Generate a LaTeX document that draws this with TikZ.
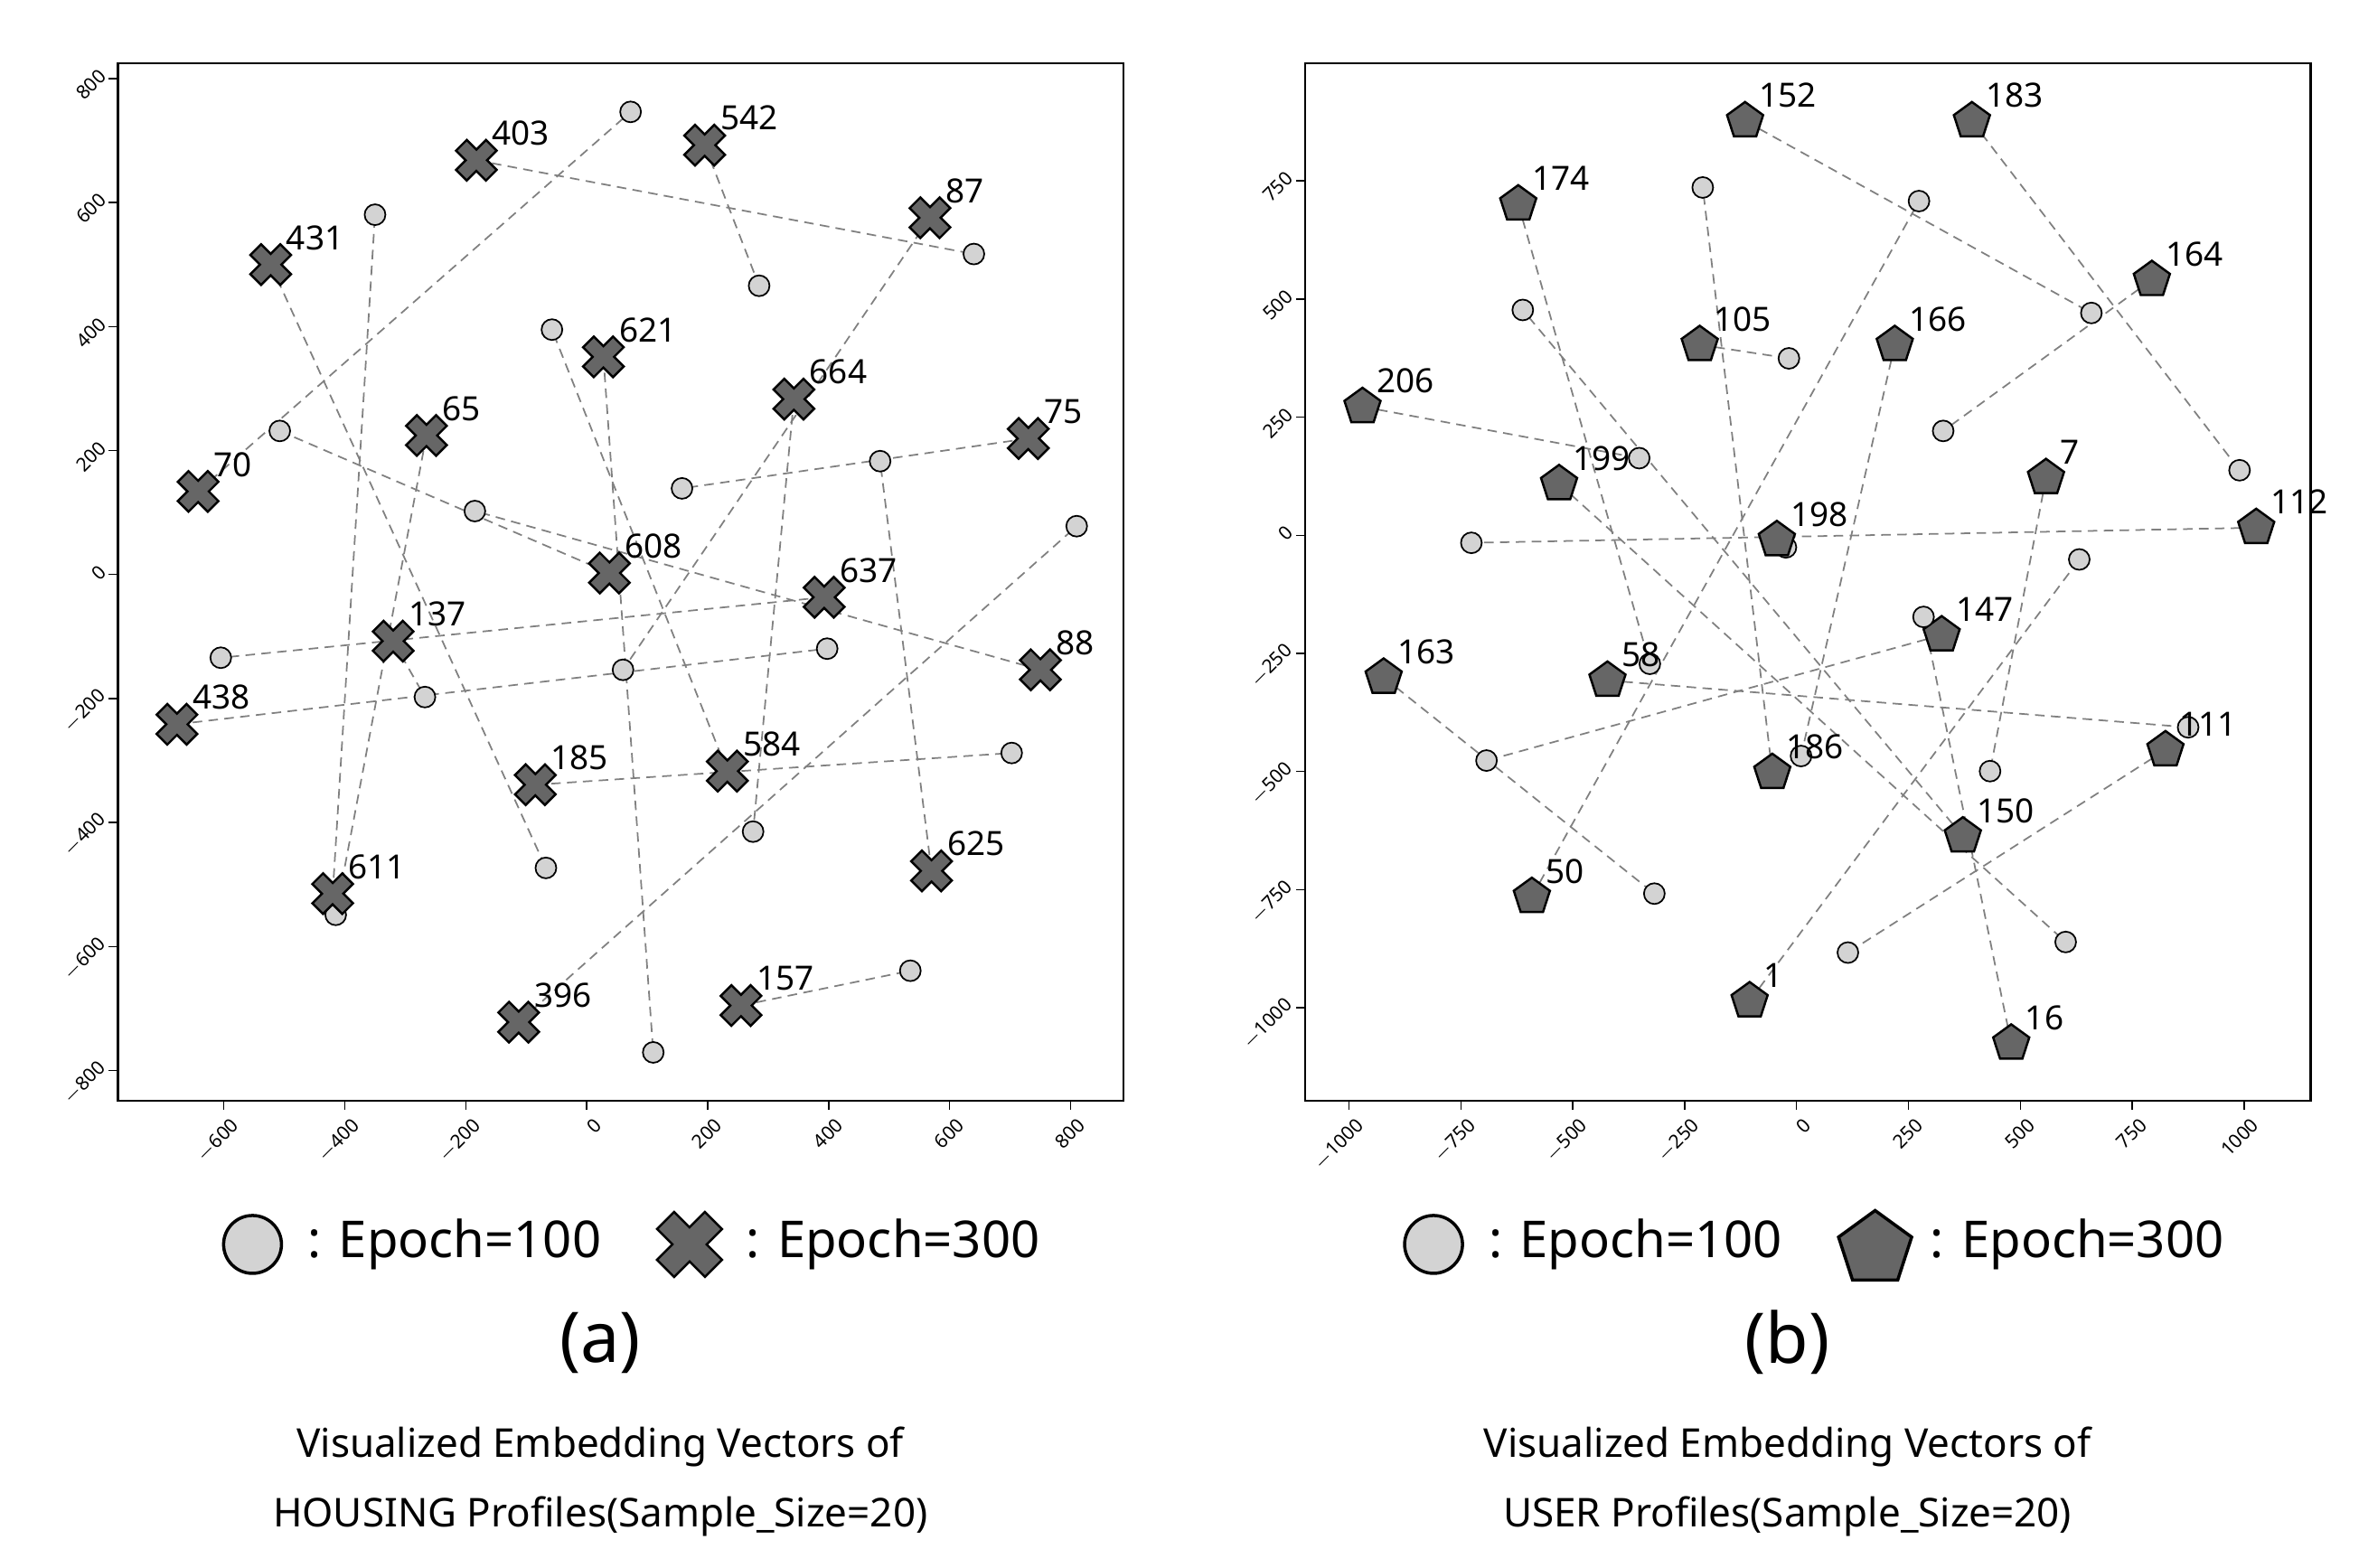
\documentclass[tikz,border=0pt]{standalone}
\usepackage{fontspec}
\setmainfont{Noto Sans}
\usetikzlibrary{shapes.geometric,backgrounds}
\definecolor{lgray}{HTML}{D3D3D3}
\definecolor{dgray}{HTML}{666666}
\begin{document}
\begin{tikzpicture}[x=0.01673cm,y=-0.01673cm,
  dot/.style={circle,draw=black,fill=lgray,line width=0.5pt,inner sep=0,minimum size=0.23cm},
  pent/.style={regular polygon,regular polygon sides=5,draw=black,fill=dgray,line width=0.7pt,inner sep=0,minimum size=0.42cm},
  lbl/.style={font=\fontsize{10.5}{12}\selectfont,anchor=base west,inner sep=0},
  conn/.style={densely dashed,gray,line width=0.5pt},
  tick/.style={font=\fontsize{6}{6.5}\selectfont,rotate=45,inner sep=0pt},
  leg/.style={font=\fontsize{16}{18}\selectfont,anchor=west,inner sep=0},
  captxt/.style={font=\fontsize{12.5}{14}\selectfont},
  xmark/.pic={\filldraw[draw=black,fill=dgray,line width=0.7pt,rotate=45]
    (-5,-14)--(5,-14)--(5,-5)--(14,-5)--(14,5)--(5,5)--(5,14)--(-5,14)--(-5,5)--(-14,5)--(-14,-5)--(-5,-5)--cycle;}]
\useasboundingbox (0,0) rectangle (1560,1037);
% frames
\draw[line width=0.6pt] (78,42) rectangle (743,728);
\draw[line width=0.6pt] (863,42) rectangle (1528,728);
% left ticks
\foreach \v in {-600,-400,...,800}{
  \draw (388+0.4*\v,728) -- (388+0.4*\v,734);
  \node[tick,anchor=north east] at (392+0.4*\v,738) {\ifnum\v<0 $-$\the\numexpr-\v\relax\else\v\fi};}
\foreach \v in {-800,-600,...,800}{
  \draw (78,380-0.41*\v) -- (72,380-0.41*\v);
  \node[tick,anchor=east] at (68,376-0.41*\v) {\ifnum\v<0 $-$\the\numexpr-\v\relax\else\v\fi};}
% right ticks
\foreach \v in {-1000,-750,...,1000}{
  \draw (1188+0.296*\v,728) -- (1188+0.296*\v,734);
  \node[tick,anchor=north east] at (1192+0.296*\v,738) {\ifnum\v<0 $-$\the\numexpr-\v\relax\else\v\fi};}
\foreach \v in {-1000,-750,...,750}{
  \draw (863,354-0.3125*\v) -- (857,354-0.3125*\v);
  \node[tick,anchor=east] at (853,350-0.3125*\v) {\ifnum\v<0 $-$\the\numexpr-\v\relax\else\v\fi};}
% left data
\foreach \n/\x/\y/\cx/\cy in {403/315/106/644/168, 542/466/96/502/189, 87/615/144/412/443,
 431/179/175/361/574, 621/399/236/432/696, 584/481/510/365/218, 664/525/264/498/550,
 70/131/325/417/74, 65/282/288/222/605, 611/220/591/248/142, 75/680/290/451/323,
 608/403/379/185/285, 88/688/443/314/338, 637/545/395/146/435, 137/260/424/281/461,
 438/117/479/547/429, 185/354/519/669/498, 625/616/576/582/305, 396/343/676/712/348,
 157/490/665/602/642}{
  \coordinate (h\n) at (\x,\y);
  \node[dot] (hc\n) at (\cx,\cy) {};
  \begin{pgfonlayer}{background}\draw[conn] (h\n) -- (hc\n.center);\end{pgfonlayer}
  \pic at (h\n) {xmark};
  \node[lbl] (hl\n) at ([shift={(10,-10)}]h\n) {\n};
}
% right data
\foreach \n/\x/\y/\cx/\cy in {152/1154/80/1383/207, 183/1304/80/1481/311, 174/1004/135/1091/439,
 164/1423/185/1285/285, 105/1124/228/1183/237, 166/1253/228/1191/500, 206/901/269/1084/303,
 199/1031/320/1366/623, 7/1353/316/1316/510, 198/1175/357/1181/362, 112/1492/349/973/359,
 147/1284/420/983/503, 163/915/448/1094/591, 58/1063/450/1447/481, 186/1172/511/1126/124,
 111/1432/496/1222/630, 150/1298/553/1007/205, 50/1013/593/1269/133, 1/1157/662/1375/370,
 16/1330/690/1272/408}{
  \node[dot] (uc\n) at (\cx,\cy) {};
  \node[pent] (u\n) at (\x,\y) {};
  \begin{pgfonlayer}{background}\draw[conn] (u\n.center) -- (uc\n.center);\end{pgfonlayer}
  \node[lbl] (ul\n) at ([shift={(9,-9)}]u\n.center) {\n};
}
% legends
\node[dot,minimum size=0.64cm,line width=1pt] (lega) at (167,823) {};
\node[leg] (legat) at (203,823) {: Epoch=100};
\coordinate (legb) at (456,823);
\pic[scale=1.6] at (legb) {xmark};
\node[leg] (legbt) at (493,823) {: Epoch=300};
\node[dot,minimum size=0.64cm,line width=1pt] (legc) at (948,823) {};
\node[leg] (legct) at (984,823) {: Epoch=100};
\node[pent,minimum size=0.85cm,line width=1pt] (legd) at (1240,826) {};
\node[leg] (legdt) at (1276,823) {: Epoch=300};
% captions
\node[font=\fontsize{22}{26}\selectfont] (ta) at (397,888) {(a)};
\node[font=\fontsize{22}{26}\selectfont] (tb) at (1182,888) {(b)};
\node[captxt] (ca1) at (397,957) {Visualized Embedding Vectors of};
\node[captxt] (ca2) at (397,1003) {HOUSING Profiles(Sample\_Size=20)};
\node[captxt] (cb1) at (1182,957) {Visualized Embedding Vectors of};
\node[captxt] (cb2) at (1182,1003) {USER Profiles(Sample\_Size=20)};
\end{tikzpicture}
\end{document}
